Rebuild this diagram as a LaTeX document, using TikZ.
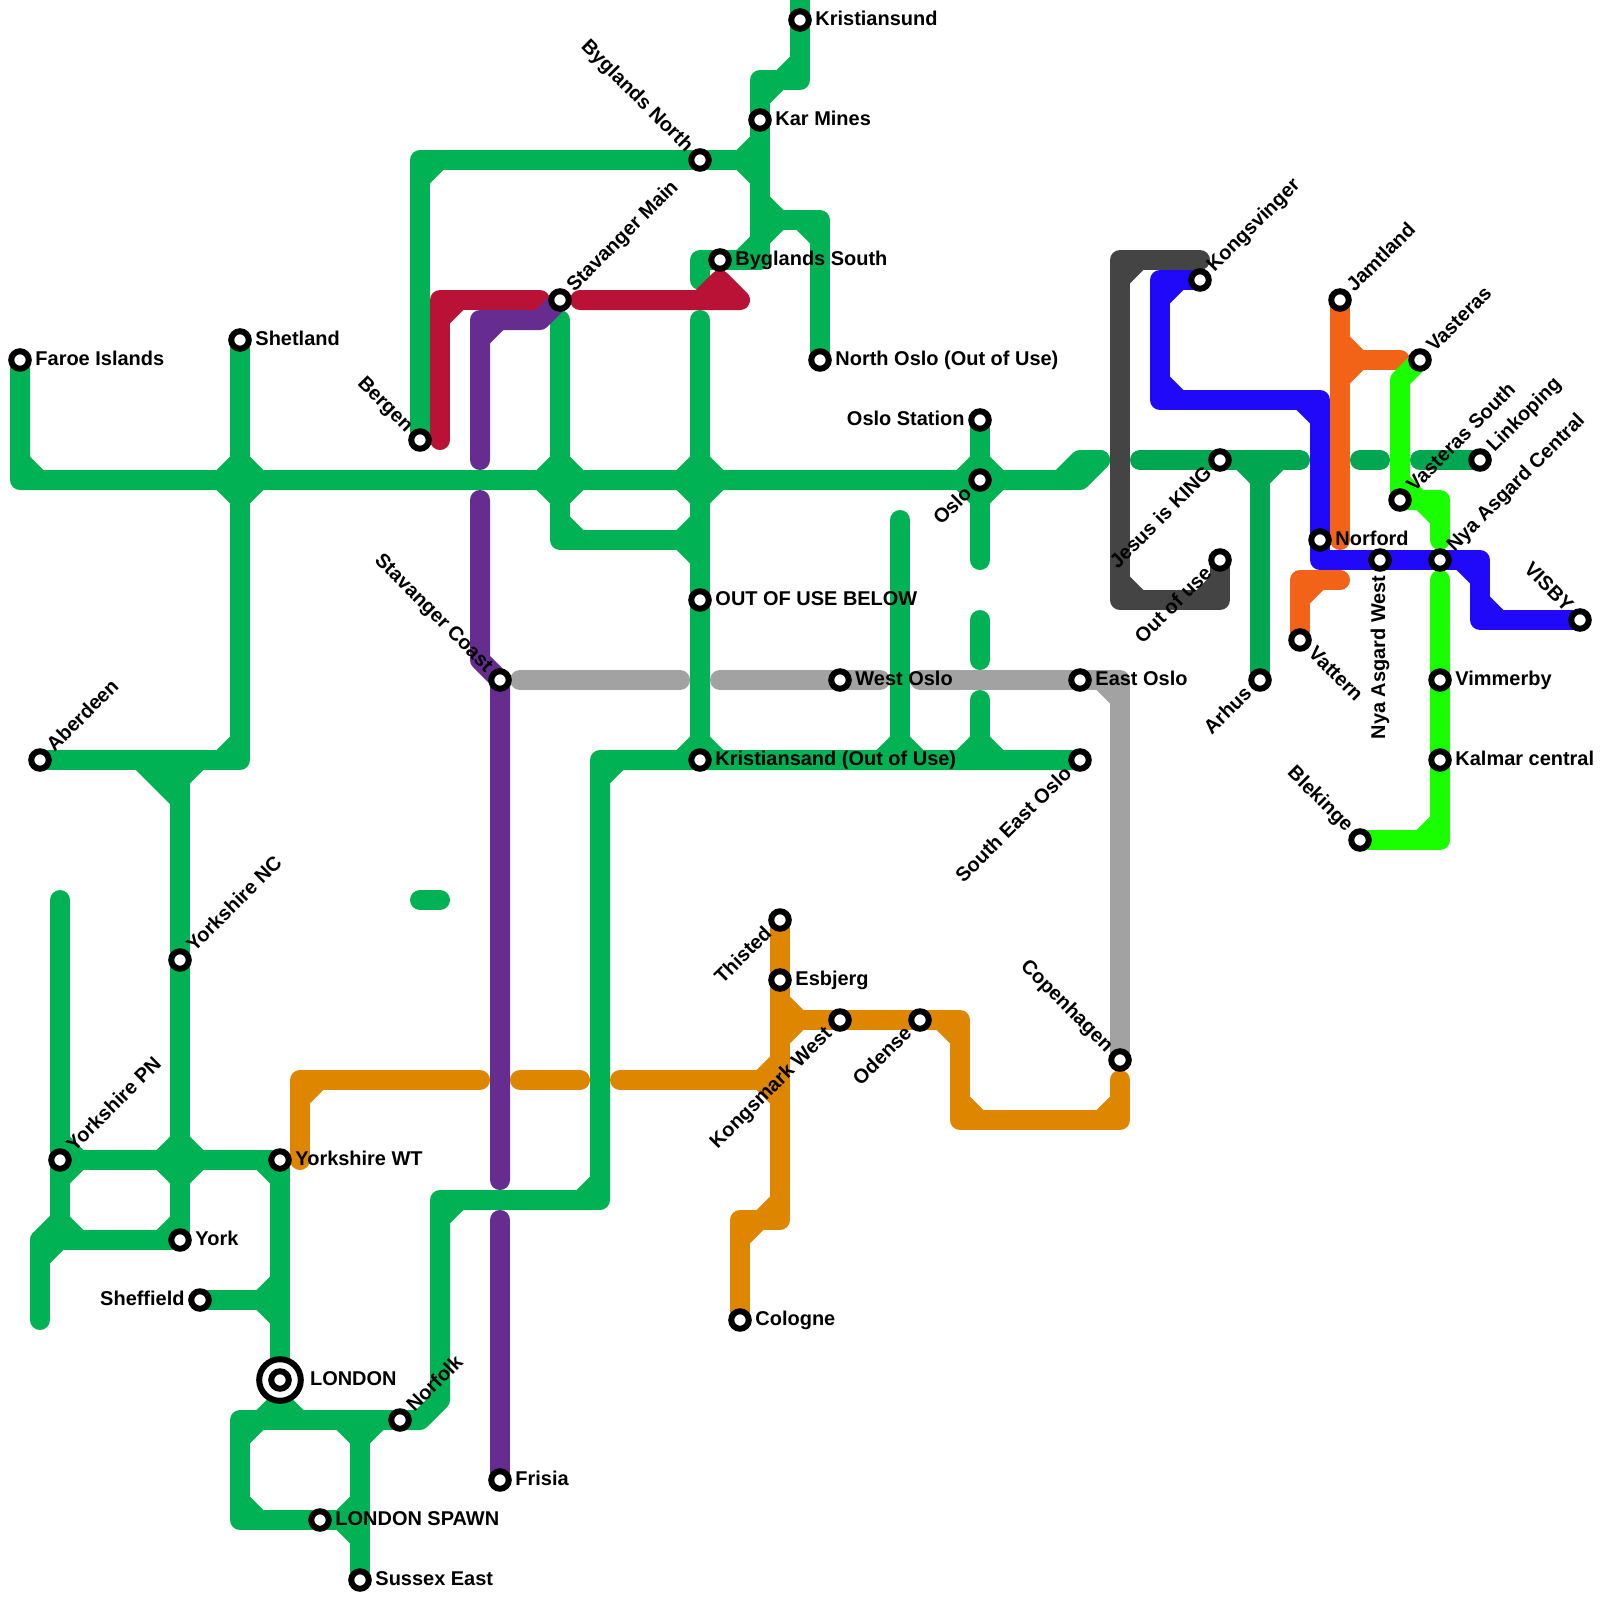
\documentclass[tikz,border=0pt]{standalone}
\usepackage{fontspec}
\setmainfont{Liberation Sans}
\definecolor{cgreen}{HTML}{00B254}
\definecolor{cgreenb}{HTML}{00A650}
\definecolor{cgray}{HTML}{A2A2A2}
\definecolor{cdark}{HTML}{444444}
\definecolor{cpurple}{HTML}{662C90}
\definecolor{cred}{HTML}{BA1237}
\definecolor{cblue}{HTML}{2008F8}
\definecolor{cochre}{HTML}{DF8600}
\definecolor{corange}{HTML}{F26317}
\definecolor{clime}{HTML}{19FF00}
\tikzset{
  metro/.style={line width=0.5cm,line cap=round,line join=round},
  gl/.style={metro,draw=cgreen},
  glb/.style={metro,draw=cgreenb},
  grl/.style={metro,draw=cgray},
  dkl/.style={metro,draw=cdark},
  pul/.style={metro,draw=cpurple},
  rel/.style={metro,draw=cred},
  bll/.style={metro,draw=cblue},
  ocl/.style={metro,draw=cochre},
  orl/.style={metro,draw=corange},
  lil/.style={metro,draw=clime},
  stn/.style={circle,draw=black,fill=white,line width=4.27pt,minimum size=0.4375cm,inner sep=0pt,outer sep=0pt},
  bigstn/.style={circle,draw=black,fill=white,line width=4.27pt,minimum size=1.04cm,inner sep=0pt,outer sep=0pt},
  labbase/.style={font=\fontsize{14.2pt}{16pt}\selectfont\bfseries,inner sep=0pt,text=black},
  labR/.style={labbase,anchor=base west,xshift=10.8pt,yshift=-3.7pt},
  labL/.style={labbase,anchor=base east,xshift=-10.8pt,yshift=-3.7pt},
}
% inner-corner fillet: x, y, sign x, sign y
\newcommand{\fq}[4]{(#1+.3*#3,#2+.3*#4) -- (#1+1.167*#3,#2+.3*#4) -- (#1+1.167*#3,#2+.5*#4) -- (#1+.5*#3,#2+1.167*#4) -- (#1+.3*#3,#2+1.167*#4) -- cycle}
\newcommand{\fils}[2]{\foreach \px/\py/\sx/\sy in {#2} {\fill[#1] \fq{\px}{\py}{\sx}{\sy};}}
\newcommand{\crs}[3]{\fils{#1}{#2/#3/1/1,#2/#3/1/-1,#2/#3/-1/1,#2/#3/-1/-1}}
\begin{document}
\begin{tikzpicture}[x=0.5cm,y=-0.5cm]
\useasboundingbox (0,0) rectangle (80,80);
\fill[white] (0,0) rectangle (80,80);
% station positions
\foreach \n/\x/\y in {faroe/1/18,shetland/12/17,aberdeen/2/38,ync/9/48,ypn/3/58,ywt/14/58,york/9/62,sheffield/10/65,london/14/69,norfolk/20/71,spawn/16/76,sussex/18/79,frisia/25/74,bergen/21/22,stavmain/28/15,bygn/35/8,kar/38/6,kristiansund/40/1,bygs/36/13,northoslo/41/18,oslost/49/21,oslo/49/24,oou/35/30,stavcoast/25/34,westoslo/42/34,eastoslo/54/34,kristiansand/35/38,seoslo/54/38,thisted/39/46,esbjerg/39/49,kongsmark/42/51,odense/46/51,copenhagen/56/53,cologne/37/66,kongsvinger/60/14,jesus/61/23,outofuse/61/28,arhus/63/34,jamtland/67/15,vasteras/71/18,vsouth/70/25,linkoping/74/23,norford/66/27,nyawest/69/28,nyacentral/72/28,visby/79/31,vattern/65/32,vimmerby/72/34,kalmar/72/38,blekinge/68/42}
  {\coordinate (\n) at (\x,\y);}
% green
\draw[gl] (faroe) -- (1,24) -- (54,24) -- (55,23);
\draw[gl] (53,24) -- (54,23) -- (55,23);
\draw[gl] (shetland) -- (12,38) -- (aberdeen);
\draw[gl] (7,38) -- (9,40);
\draw[gl] (9,38) -- (ync) -- (york);
\draw[gl] (3,45) -- (ypn) -- (3,62);
\draw[gl] (york) -- (2,62) -- (2,66);
\draw[gl] (3,61) -- (2,62);
\draw[gl] (ypn) -- (ywt) -- (london) -- (14,71);
\draw[gl] (sheffield) -- (14,65);
\draw[gl] (norfolk) -- (12,71) -- (12,76) -- (spawn) -- (18,76);
\draw[gl] (18,71) -- (sussex);
\draw[gl] (norfolk) -- (21,71) -- (22,70) -- (22,60) -- (30,60) -- (30,38) -- (kristiansand) -- (seoslo);
\draw[gl] (35,16) -- (kristiansand);
\draw[gl] (28,16) -- (28,27) -- (35,27);
\draw[gl] (oslost) -- (49,28);
\draw[gl] (49,31) -- (49,33);
\draw[gl] (49,35) -- (49,38);
\draw[gl] (45,26) -- (45,38);
\draw[gl] (bergen) -- (21,8) -- (38,8);
\draw[gl] (40,0) -- (40,4) -- (38,4) -- (38,13) -- (35,13) -- (35,14);
\draw[gl] (38,11) -- (41,11) -- (northoslo);
\draw[gl] (21,45) -- (22,45);
\crs{cgreen}{12}{24}\crs{cgreen}{9}{58}\crs{cgreen}{28}{24}\crs{cgreen}{35}{24}\crs{cgreen}{49}{24}
\fils{cgreen}{1/24/1/-1,12/38/-1/-1,9/38/1/1,9/38/-1/1,3/58/1/1,3/58/1/-1,3/62/1/-1,2/62/1/1,9/62/-1/-1,14/58/-1/1,14/65/-1/-1,14/65/-1/1,14/71/-1/-1,14/71/1/-1,12/71/1/1,12/76/1/-1,18/71/-1/1,18/71/1/1,18/76/-1/-1,18/76/-1/1,22/60/1/1,30/60/-1/-1,30/38/1/1,35/38/-1/-1,35/38/1/-1,45/38/-1/-1,45/38/1/-1,49/38/-1/-1,49/38/1/-1,28/27/1/-1,35/27/-1/-1,35/27/-1/1,21/8/1/1,38/8/-1/-1,38/8/-1/1,38/4/1/1,40/4/-1/-1,38/11/1/-1,38/11/1/1,41/11/-1/1,38/13/-1/-1}
% darker green, east part
\draw[glb] (57,23) -- (jesus) -- (65,23);
\draw[glb] (68,23) -- (69,23);
\draw[glb] (71,23) -- (linkoping);
\draw[glb] (63,23) -- (arhus);
\fils{cgreenb}{63/23/-1/1,63/23/1/1}
% ochre
\draw[ocl] (15,58) -- (15,54) -- (24,54);
\draw[ocl] (26,54) -- (29,54);
\draw[ocl] (31,54) -- (39,54);
\draw[ocl] (thisted) -- (esbjerg) -- (39,61) -- (37,61) -- (cologne);
\draw[ocl] (39,51) -- (kongsmark) -- (odense) -- (48,51) -- (48,56) -- (56,56) -- (56,54);
\fils{cochre}{15/54/1/1,39/54/-1/-1,39/54/-1/1,39/61/-1/-1,37/61/1/1,39/51/1/-1,39/51/1/1,48/51/-1/1,48/56/1/-1,56/56/-1/-1}
% grays
\draw[grl] (26,34) -- (34,34);
\draw[grl] (36,34) -- (westoslo) -- (44,34);
\draw[grl] (46,34) -- (eastoslo) -- (56,34) -- (copenhagen);
\fils{cgray}{56/34/-1/1}
\draw[dkl] (60,13) -- (56,13) -- (56,30) -- (61,30) -- (outofuse);
\fils{cdark}{56/13/1/1,56/30/1/-1,61/30/-1/-1}
% blue
\draw[bll] (kongsvinger) -- (58,14) -- (58,20) -- (66,20) -- (norford) -- (66,28) -- (nyawest) -- (nyacentral) -- (74,28) -- (74,31) -- (visby);
\fils{cblue}{58/14/1/1,58/20/1/-1,66/20/-1/1,74/28/-1/1,74/31/1/-1}
% orange
\draw[orl] (jamtland) -- (67,27);
\draw[orl] (67,18) -- (70,18);
\draw[orl] (67,29) -- (65,29) -- (vattern);
\fils{corange}{67/18/1/-1,67/18/1/1,65/29/1/1}
% lime
\draw[lil] (vasteras) -- (70,19) -- (vsouth) -- (72,25) -- (72,27);
\draw[lil] (72,29) -- (vimmerby) -- (kalmar) -- (72,42) -- (blekinge);
\fils{clime}{72/25/-1/1,70/25/1/-1,72/42/-1/-1}
% red
\draw[rel] (22,22) -- (22,15) -- (27,15);
\draw[rel] (29,15) -- (37,15) -- (36,14) -- (35,15);
\fils{cred}{22/15/1/1}
% purple
\draw[pul] (24,23) -- (24,16) -- (27,16) -- (stavmain);
\draw[pul] (24,25) -- (24,33) -- (stavcoast) -- (25,59);
\draw[pul] (25,61) -- (frisia);
\fils{cpurple}{24/16/1/1}
% stations
\foreach \n in {faroe,shetland,aberdeen,ync,ypn,ywt,york,sheffield,norfolk,spawn,sussex,frisia,bergen,stavmain,bygn,kar,kristiansund,bygs,northoslo,oslost,oslo,oou,stavcoast,westoslo,eastoslo,kristiansand,seoslo,thisted,esbjerg,kongsmark,odense,copenhagen,cologne,kongsvinger,jesus,outofuse,arhus,jamtland,vasteras,vsouth,linkoping,norford,nyawest,nyacentral,visby,vattern,vimmerby,kalmar,blekinge}
  {\node[stn] (s-\n) at (\n) {};}
\node[bigstn] (s-londonouter) at (london) {};
\node[stn] (s-london) at (london) {};
% labels
\node[labR] (l-faroe) at (faroe) {Faroe Islands};
\node[labR] (l-shetland) at (shetland) {Shetland};
\node[labR] (l-ywt) at (ywt) {Yorkshire WT};
\node[labR] (l-york) at (york) {York};
\node[labR,xshift=10.4pt] (l-london) at (london) {LONDON};
\node[labR] (l-spawn) at (spawn) {LONDON SPAWN};
\node[labR] (l-sussex) at (sussex) {Sussex East};
\node[labR] (l-frisia) at (frisia) {Frisia};
\node[labR] (l-kristiansund) at (kristiansund) {Kristiansund};
\node[labR] (l-kar) at (kar) {Kar Mines};
\node[labR] (l-bygs) at (bygs) {Byglands South};
\node[labR] (l-northoslo) at (northoslo) {North Oslo (Out of Use)};
\node[labR] (l-oou) at (oou) {OUT OF USE BELOW};
\node[labR] (l-westoslo) at (westoslo) {West Oslo};
\node[labR] (l-eastoslo) at (eastoslo) {East Oslo};
\node[labR] (l-kristiansand) at (kristiansand) {Kristiansand (Out of Use)};
\node[labR] (l-esbjerg) at (esbjerg) {Esbjerg};
\node[labR] (l-cologne) at (cologne) {Cologne};
\node[labR] (l-norford) at (norford) {Norford};
\node[labR] (l-vimmerby) at (vimmerby) {Vimmerby};
\node[labR] (l-kalmar) at (kalmar) {Kalmar central};
\node[labL] (l-sheffield) at (sheffield) {Sheffield};
\node[labL] (l-oslost) at (oslost) {Oslo Station};
\node[rotate=45,labR] (l-aberdeen) at (aberdeen) {Aberdeen};
\node[rotate=45,labR] (l-ync) at (ync) {Yorkshire NC};
\node[rotate=45,labR] (l-ypn) at (ypn) {Yorkshire PN};
\node[rotate=45,labR] (l-norfolk) at (norfolk) {Norfolk};
\node[rotate=45,labR] (l-stavmain) at (stavmain) {Stavanger Main};
\node[rotate=45,labR] (l-kongsvinger) at (kongsvinger) {Kongsvinger};
\node[rotate=45,labR] (l-jamtland) at (jamtland) {Jamtland};
\node[rotate=45,labR] (l-vasteras) at (vasteras) {Vasteras};
\node[rotate=45,labR] (l-vsouth) at (vsouth) {Vasteras South};
\node[rotate=45,labR] (l-linkoping) at (linkoping) {Linkoping};
\node[rotate=45,labR] (l-nyacentral) at (nyacentral) {Nya Asgard Central};
\node[rotate=45,labL] (l-thisted) at (thisted) {Thisted};
\node[rotate=45,labL] (l-oslo) at (oslo) {Oslo};
\node[rotate=45,labL] (l-odense) at (odense) {Odense};
\node[rotate=45,labL] (l-kongsmark) at (kongsmark) {Kongsmark West};
\node[rotate=45,labL] (l-seoslo) at (seoslo) {South East Oslo};
\node[rotate=45,labL] (l-jesus) at (jesus) {Jesus is KING};
\node[rotate=45,labL] (l-outofuse) at (outofuse) {Out of use};
\node[rotate=45,labL] (l-arhus) at (arhus) {Arhus};
\node[rotate=-45,labL] (l-bygn) at (bygn) {Byglands North};
\node[rotate=-45,labL] (l-bergen) at (bergen) {Bergen};
\node[rotate=-45,labL] (l-stavcoast) at (stavcoast) {Stavanger Coast};
\node[rotate=-45,labL] (l-copenhagen) at (copenhagen) {Copenhagen};
\node[rotate=-45,labL] (l-blekinge) at (blekinge) {Blekinge};
\node[rotate=-45,labL] (l-visby) at (visby) {VISBY};
\node[rotate=-45,labR] (l-vattern) at (vattern) {Vattern};
\node[rotate=90,labL] (l-nyawest) at (nyawest) {Nya Asgard West};
\end{tikzpicture}
\end{document}
